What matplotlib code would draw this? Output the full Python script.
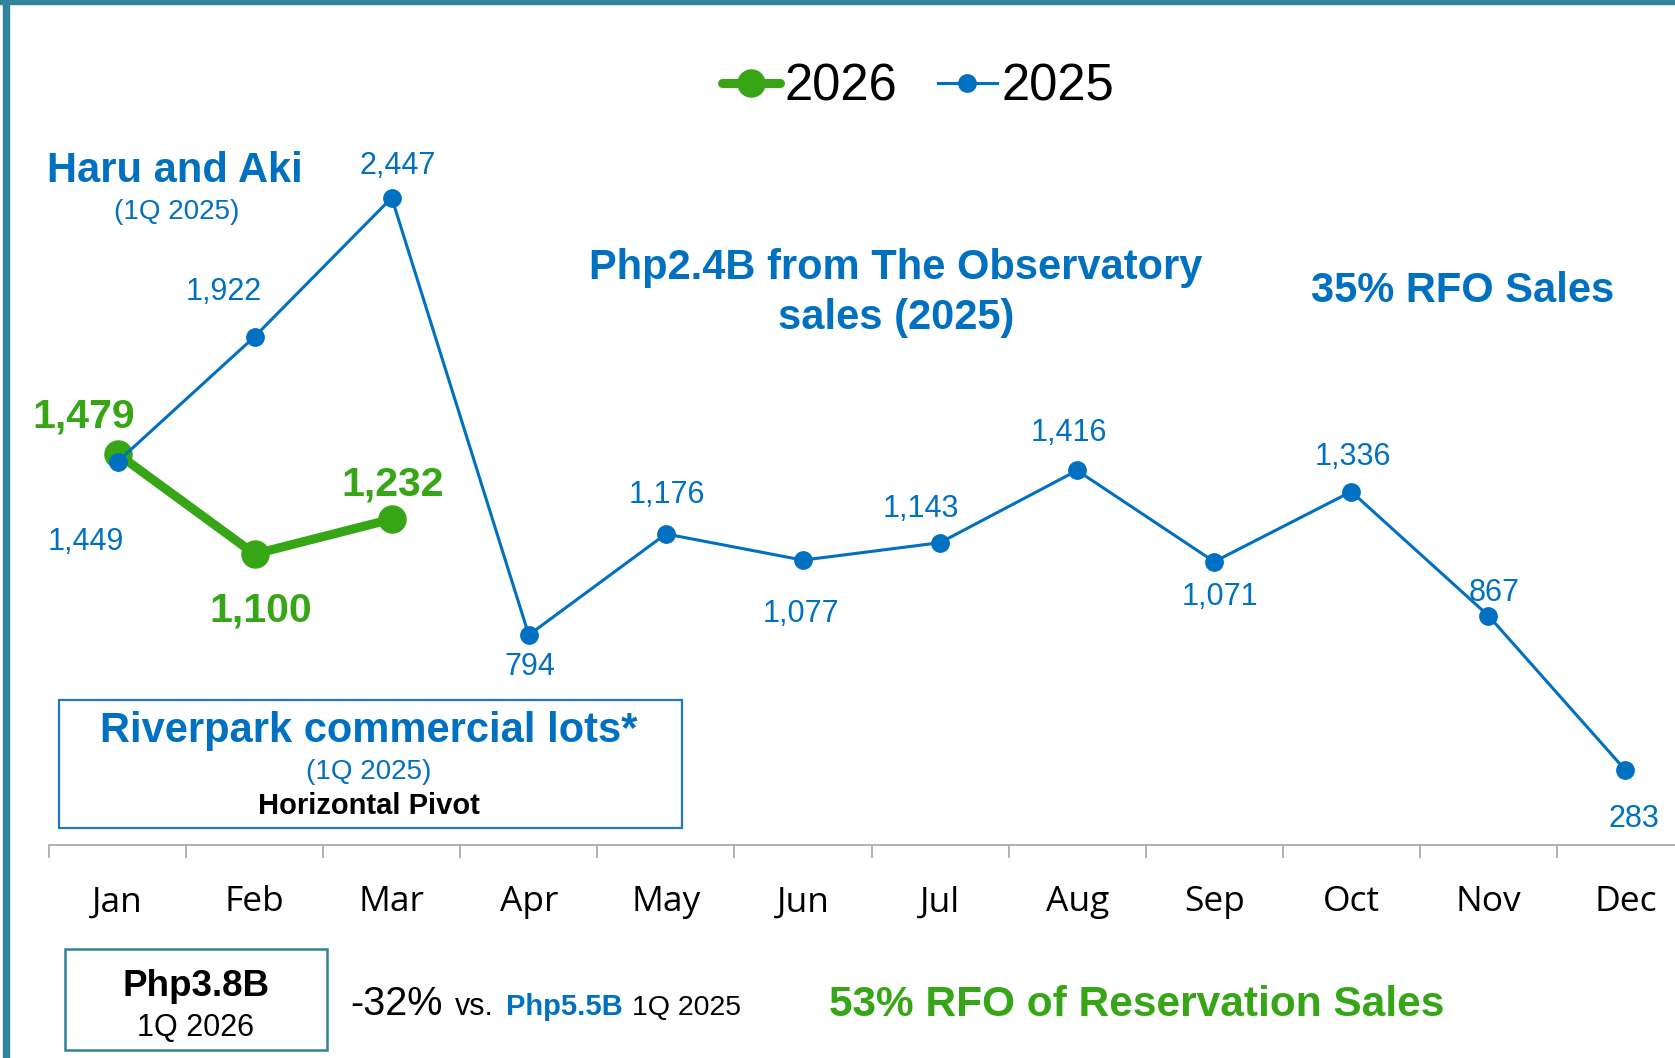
import matplotlib
matplotlib.use("Agg")
import matplotlib.pyplot as plt
from matplotlib.patches import Rectangle

# monthly reservation sales (in Php M)
months = ["Jan", "Feb", "Mar", "Apr", "May", "Jun",
          "Jul", "Aug", "Sep", "Oct", "Nov", "Dec"]
sales_2025 = [1449, 1922, 2447, 794, 1176, 1077, 1143, 1416, 1071, 1336, 867, 283]
sales_2026 = [1479, 1100, 1232]

# where each value label sits relative to its point (pixels, y up)
offs_2025 = [(-32, -80), (-31, 45), (6, 32), (1, -32), (1, 39), (-2, -54),
             (-19, 34), (-8, 37), (6, -35), (2, 35), (6, 23), (8, -49)]
offs_2026 = [(-34, 37), (6, -56), (1, 35)]

BLUE = "#0070C0"
GREEN = "#36A616"
TEAL = "#31849B"
W, H = 1675, 1058

plt.rcParams["font.family"] = ["Liberation Sans", "DejaVu Sans"]

fig = plt.figure(figsize=(W / 100, H / 100), dpi=100)


def fx(x):
    return x / W


def fy(y):
    return 1 - y / H


ax = fig.add_axes([fx(49), fy(845), 1645 / W, 845 / H])
ax.patch.set_alpha(0)
xs = list(range(len(months)))

ax.plot(xs[:len(sales_2026)], sales_2026, color=GREEN, lw=6.5, marker="o",
        ms=19.5, solid_capstyle="round", label="2026", zorder=3)
ax.plot(xs, sales_2025, color=BLUE, lw=2.2, marker="o", ms=12.5,
        label="2025", zorder=4)

for x, v, (dx, dy) in zip(xs, sales_2025, offs_2025):
    ax.annotate(f"{v:,}", (x, v), xytext=(dx, dy), textcoords="offset pixels",
                ha="center", va="center", fontsize=22, color=BLUE)
for x, v, (dx, dy) in zip(xs, sales_2026, offs_2026):
    ax.annotate(f"{v:,}", (x, v), xytext=(dx, dy), textcoords="offset pixels",
                ha="center", va="center", fontsize=29.5, fontweight="bold", color=GREEN)

ax.set_xlim(-0.5, 11.5)
ax.set_ylim(0, 845 / 0.2645)
for s in ["top", "right", "left"]:
    ax.spines[s].set_visible(False)
ax.spines["bottom"].set_color("#a6a6a6")
ax.spines["bottom"].set_linewidth(1.2)
ax.set_yticks([])
ax.set_xticks(xs)
ax.set_xticklabels(months, fontfamily="Open Sans", fontsize=25.5)
ax.tick_params(axis="x", which="major", length=0, pad=29)
ax.set_xticks([i - 0.5 for i in range(13)], minor=True)
ax.tick_params(axis="x", which="minor", length=9.5, width=1.2, color="#a6a6a6")

fig.legend(loc="center", bbox_to_anchor=(fx(918), fy(87)), ncol=2, frameon=False,
           fontsize=36.5, handlelength=1.15, handletextpad=0.1, columnspacing=0.8,
           borderpad=0)

# outer frame (top and left edges)
fig.patches.append(Rectangle((0, fy(4)), 1, 4 / H, transform=fig.transFigure,
                             color=TEAL, zorder=0))
fig.patches.append(Rectangle((fx(3), 0), 6 / W, 1, transform=fig.transFigure,
                             color=TEAL, zorder=0))

# annotations
fig.text(fx(47), fy(171), "Haru and Aki", ha="left", va="center",
         fontsize=30, fontweight="bold", color=BLUE)
fig.text(fx(177), fy(212), "(1Q 2025)", ha="center", va="center",
         fontsize=20, color=BLUE)
fig.text(fx(896), fy(293), "Php2.4B from The Observatory\nsales (2025)",
         ha="center", va="center", multialignment="center", linespacing=1.32,
         fontsize=30, fontweight="bold", color=BLUE)
fig.text(fx(1463), fy(291), "35% RFO Sales", ha="center", va="center",
         fontsize=30, fontweight="bold", color=BLUE)

fig.patches.append(Rectangle((fx(59), fy(828)), 623 / W, 128 / H,
                             transform=fig.transFigure, fill=False,
                             edgecolor="#1f78c8", lw=1.6))
fig.text(fx(369), fy(731), "Riverpark commercial lots*", ha="center", va="center",
         fontsize=30, fontweight="bold", color=BLUE)
fig.text(fx(369), fy(772), "(1Q 2025)", ha="center", va="center",
         fontsize=20, color=BLUE)
fig.text(fx(369), fy(806), "Horizontal Pivot", ha="center", va="center",
         fontsize=21, fontweight="bold", color="black")

fig.patches.append(Rectangle((fx(65), fy(1050)), 262 / W, 101 / H,
                             transform=fig.transFigure, fill=False,
                             edgecolor=TEAL, lw=1.8))
fig.text(fx(196), fy(986), "Php3.8B", ha="center", va="center",
         fontsize=26.5, fontweight="bold", color="black")
fig.text(fx(196), fy(1028), "1Q 2026", ha="center", va="center",
         fontsize=22, color="black")

fig.text(fx(350), fy(1015), "-32%", ha="left", va="baseline", fontsize=28.5, color="black")
fig.text(fx(455), fy(1015), "vs.", ha="left", va="baseline", fontsize=22, color="black")
fig.text(fx(506), fy(1015), "Php5.5B", ha="left", va="baseline",
         fontsize=21, fontweight="bold", color=BLUE)
fig.text(fx(632), fy(1015), "1Q 2025", ha="left", va="baseline", fontsize=20.5, color="black")
fig.text(fx(829), fy(1005), "53% RFO of Reservation Sales", ha="left", va="center",
         fontsize=30.5, fontweight="bold", color=GREEN)

fig.savefig("out.png", dpi=100)
